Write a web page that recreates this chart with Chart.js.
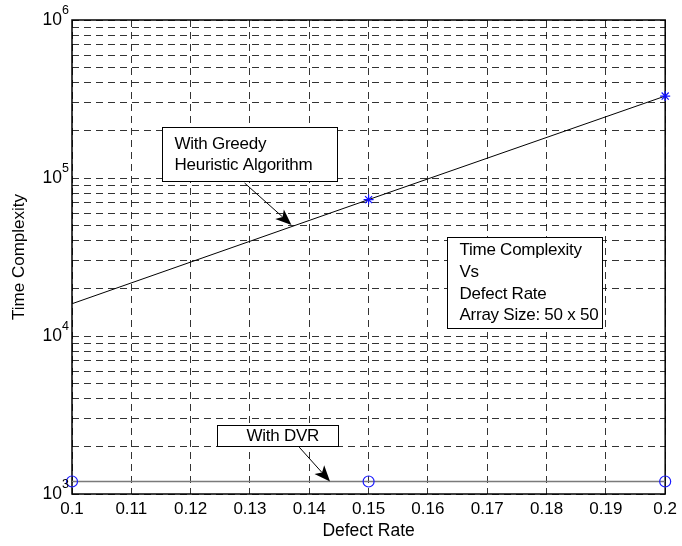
<!DOCTYPE html>
<html>
<head>
<meta charset="utf-8">
<script src="https://cdn.jsdelivr.net/npm/chart.js@4.4.1/dist/chart.umd.min.js"></script>
<style>
  html, body { margin: 0; padding: 0; background: #fff; }
</style>
</head>
<body>
<canvas id="tc" width="682" height="546"></canvas>
<script>
// data
const defectRate = [0.1, 0.15, 0.2];
const greedyTime = [16000, 73000, 330000];
const dvrTime = [1200, 1200, 1200];
const xTickValues = [0.1, 0.11, 0.12, 0.13, 0.14, 0.15, 0.16, 0.17, 0.18, 0.19, 0.2];
const yDecades = [1e3, 1e4, 1e5, 1e6];
const yMinorSteps = [1, 2, 3, 4, 5, 6, 7, 8, 9];

const FONT = '"Liberation Sans", Arial, sans-serif';

// log grid: 1..9 per decade plus the top decade
const yTickValues = [];
yDecades.slice(0, -1).forEach(d => yMinorSteps.forEach(m => yTickValues.push(m * d)));
yTickValues.push(yDecades[yDecades.length - 1]);

// text boxes and arrows, placed in data units
const notes = [
  { lines: ['With Greedy', 'Heuristic Algorithm'], x0: 0.1151, x1: 0.1447, y0: 2.1e5, y1: 9.6e4, inset: 12, lh: 21 },
  { lines: ['Time Complexity', 'Vs', 'Defect Rate', 'Array Size: 50 x 50'], x0: 0.1632, x1: 0.1894, y0: 42400, y1: 11250, inset: 12, lh: 21.7 },
  { lines: ['With DVR'], x0: 0.1244, x1: 0.1449, y0: 2735, y1: 2015, inset: 29, lh: 21 }
];
const arrows = [
  { from: [0.1291, 92900], to: [0.1370, 50500] },
  { from: [0.1383, 1980], to: [0.1435, 1200] }
];

function drawArrow(ctx, x1, y1, x2, y2) {
  const ang = Math.atan2(y2 - y1, x2 - x1);
  const len = 16, half = 6.5;
  ctx.beginPath();
  ctx.moveTo(x1, y1);
  ctx.lineTo(x2 - Math.cos(ang) * len * 0.75, y2 - Math.sin(ang) * len * 0.75);
  ctx.stroke();
  ctx.save();
  ctx.translate(x2, y2);
  ctx.rotate(ang);
  ctx.beginPath();
  ctx.moveTo(0, 0);
  ctx.lineTo(-len, -half);
  ctx.lineTo(-len * 0.75, 0);
  ctx.lineTo(-len, half);
  ctx.closePath();
  ctx.fill();
  ctx.restore();
}

const decor = {
  id: 'decor',
  beforeDatasetsDraw(chart) {
    const { ctx, chartArea: a } = chart;
    ctx.save();
    ctx.strokeStyle = '#000';
    ctx.lineWidth = 1.5;
    ctx.strokeRect(a.left, a.top, a.right - a.left, a.bottom - a.top);
    ctx.restore();
  },
  afterDraw(chart) {
    const { ctx, chartArea: a, scales: { x, y } } = chart;
    ctx.save();
    ctx.fillStyle = '#000';

    // y tick labels as 10 with a raised exponent
    yDecades.forEach(v => {
      const py = y.getPixelForValue(v);
      ctx.font = '17.5px ' + FONT;
      ctx.textAlign = 'right';
      ctx.textBaseline = 'middle';
      ctx.fillText('10', a.left - 10, py);
      ctx.font = '12.5px ' + FONT;
      ctx.textAlign = 'left';
      ctx.fillText(String(Math.round(Math.log10(v))), a.left - 10, py - 9);
    });

    // y axis title
    ctx.save();
    ctx.translate(19, (a.top + a.bottom) / 2);
    ctx.rotate(-Math.PI / 2);
    ctx.font = '17px ' + FONT;
    ctx.textAlign = 'center';
    ctx.textBaseline = 'middle';
    ctx.fillText('Time Complexity', 0, 0);
    ctx.restore();

    // arrows
    ctx.strokeStyle = '#000';
    ctx.lineWidth = 1;
    arrows.forEach(ar => {
      drawArrow(ctx,
        x.getPixelForValue(ar.from[0]), y.getPixelForValue(ar.from[1]),
        x.getPixelForValue(ar.to[0]), y.getPixelForValue(ar.to[1]));
    });

    // text boxes
    notes.forEach(n => {
      const l = Math.round(x.getPixelForValue(n.x0)) + 0.5;
      const r = Math.round(x.getPixelForValue(n.x1)) + 0.5;
      const t = Math.round(y.getPixelForValue(n.y0)) + 0.5;
      const b = Math.round(y.getPixelForValue(n.y1)) + 0.5;
      ctx.fillStyle = '#fff';
      ctx.fillRect(l, t, r - l, b - t);
      ctx.strokeStyle = '#000';
      ctx.lineWidth = 1;
      ctx.strokeRect(l, t, r - l, b - t);
      ctx.fillStyle = '#000';
      ctx.font = '17px ' + FONT;
      ctx.letterSpacing = '-0.25px';
      ctx.textAlign = 'left';
      ctx.textBaseline = 'middle';
      const first = t + ((b - t) - (n.lines.length - 1) * n.lh) / 2;
      n.lines.forEach((s, i) => ctx.fillText(s, l + n.inset, first + i * n.lh));
      ctx.letterSpacing = '0px';
    });
    ctx.restore();
  }
};

const gridColor = 'rgba(0,0,0,0.8)';

new Chart(document.getElementById('tc'), {
  type: 'line',
  data: {
    datasets: [
      {
        label: 'With Greedy Heuristic Algorithm',
        data: defectRate.map((r, i) => ({ x: r, y: greedyTime[i] })),
        borderColor: '#000',
        borderWidth: 1,
        pointStyle: 'star',
        pointRadius: [0, 5, 5],
        pointBorderColor: '#1010ff',
        pointBorderWidth: 1.2,
        pointBackgroundColor: '#1010ff',
        fill: false,
        tension: 0,
        clip: false
      },
      {
        label: 'With DVR',
        data: defectRate.map((r, i) => ({ x: r, y: dvrTime[i] })),
        borderColor: '#7a7a7a',
        borderWidth: 1.6,
        pointStyle: 'circle',
        pointRadius: 5.5,
        pointBorderColor: '#1a1aff',
        pointBorderWidth: 1.2,
        pointBackgroundColor: 'rgba(0,0,0,0)',
        fill: false,
        tension: 0,
        clip: false
      }
    ]
  },
  options: {
    responsive: false,
    animation: false,
    events: [],
    layout: { padding: { top: 20, right: 15, left: 0, bottom: 0 } },
    plugins: { legend: { display: false }, tooltip: { enabled: false } },
    scales: {
      x: {
        type: 'linear',
        min: 0.1,
        max: 0.2,
        afterBuildTicks: s => { s.ticks = xTickValues.map(v => ({ value: v })); },
        afterFit: s => { s.height = 52; },
        ticks: {
          color: '#000',
          font: { family: FONT, size: 17 },
          padding: 5,
          maxRotation: 0,
          autoSkip: false,
          callback: v => String(+v.toFixed(2))
        },
        grid: { color: gridColor, lineWidth: 1, drawTicks: false },
        border: { display: false, dash: [7, 5] },
        title: {
          display: true,
          text: 'Defect Rate',
          color: '#000',
          font: { family: FONT, size: 17.5 },
          padding: { top: 0, bottom: 4 }
        }
      },
      y: {
        type: 'logarithmic',
        min: 1000,
        max: 1e6,
        afterBuildTicks: s => { s.ticks = yTickValues.map(v => ({ value: v })); },
        afterFit: s => { s.width = 72; },
        ticks: { display: false },
        grid: { color: gridColor, lineWidth: 1, drawTicks: false },
        border: { display: false, dash: [7, 5] }
      }
    }
  },
  plugins: [decor]
});
</script>
</body>
</html>
